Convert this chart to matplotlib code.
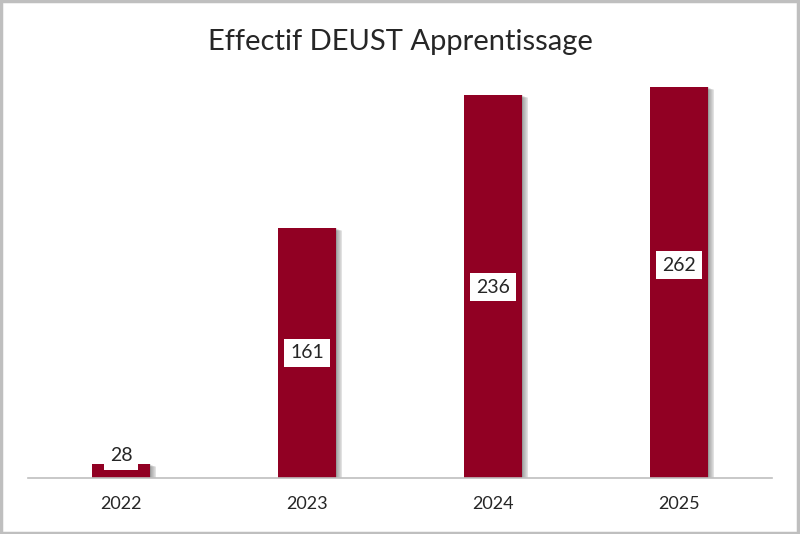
import matplotlib
matplotlib.use("Agg")
import matplotlib.pyplot as plt
from matplotlib.patches import Rectangle

# donnees
annees = ["2022", "2023", "2024", "2025"]
effectifs = [28, 161, 236, 262]          # etiquettes affichees
hauteurs = [14, 250, 383, 391]           # hauteur des barres
pos_etiq = [22, 125, 191, 213]           # position verticale des etiquettes

couleur = "#910023"
texte = "#262626"
plt.rcParams['font.family'] = ['Lato', 'DejaVu Sans']

fig = plt.figure(figsize=(8, 5.34), dpi=100)
ax = fig.add_axes([0.035, 0.1049, 0.93, 0.7827])
ax.set_xlim(-0.5, 3.5)
ax.set_ylim(0, 418)

x = list(range(len(annees)))
largeur = 0.31

# ombre portee
for k in range(8):
    for xi, h in zip(x, hauteurs):
        dx = 0.004 + k * 0.0045
        ax.add_patch(Rectangle((xi - largeur / 2 + dx, -k * 0.4), largeur, h,
                               color="black", alpha=0.06, lw=0, zorder=1))

ax.bar(x, hauteurs, width=largeur, color=couleur, zorder=3)

for xi, v, y in zip(x, effectifs, pos_etiq):
    ax.text(xi, y, str(v), ha="center", va="center", fontsize=14, color=texte,
            zorder=5, bbox=dict(boxstyle="square,pad=0.3", fc="white", ec="none"))

ax.set_xticks(x)
ax.set_xticklabels(annees, fontsize=13, color=texte)
ax.tick_params(axis="x", length=0, pad=13)
ax.set_yticks([])
for s in ["top", "right", "left"]:
    ax.spines[s].set_visible(False)
ax.spines["bottom"].set_color("#bfbfbf")
ax.spines["bottom"].set_linewidth(1.2)
ax.spines["bottom"].set_zorder(6)

fig.text(0.5, 0.921, "Effectif DEUST Apprentissage", ha="center", va="center",
         fontsize=21, color=texte)

# cadre
fig.patches.append(Rectangle((0.001, 0.002), 0.997, 0.996, transform=fig.transFigure,
                             fill=False, ec="#bfbfbf", lw=2.5))

fig.savefig("out.png", dpi=100)
